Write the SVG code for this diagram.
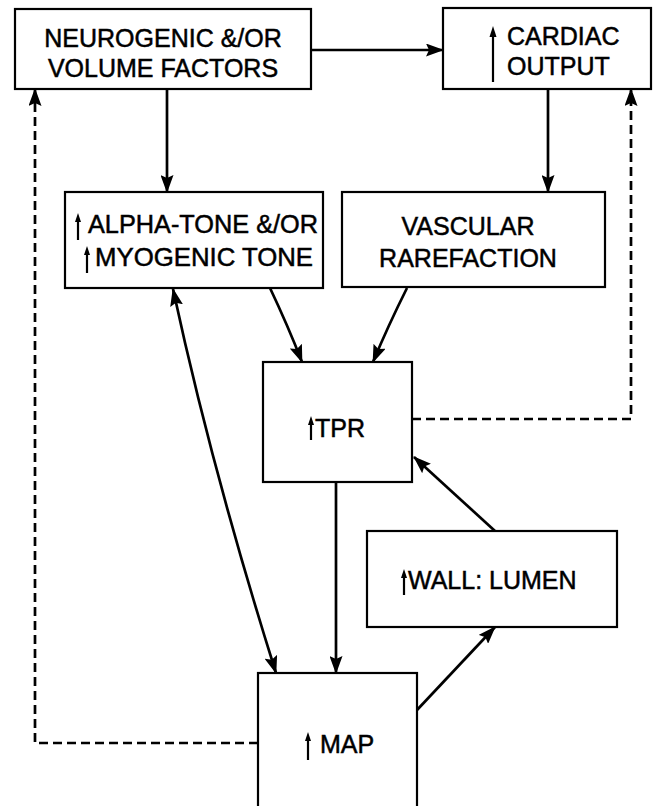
<svg xmlns="http://www.w3.org/2000/svg" width="653" height="806" viewBox="0 0 653 806">
<style>
.box{fill:#fff;stroke:#000;stroke-width:2.2}
.t{font-family:"Liberation Sans",Arial,sans-serif;font-size:25px;fill:#000;stroke:#000;stroke-width:0.5}
.c{text-anchor:middle}
.ln{fill:none;stroke:#000;stroke-width:2.7}
.dash{fill:none;stroke:#000;stroke-width:2.7;stroke-dasharray:9 5}
.up{stroke:#000;stroke-width:2.2;fill:none}
.uph{fill:#000}
</style>
<defs>
<marker id="ah" markerUnits="userSpaceOnUse" markerWidth="18" markerHeight="13" refX="17" refY="6.5" orient="auto-start-reverse">
<path d="M0,0 L18,6.5 L0,13 L3,6.5 Z" fill="#000"/>
</marker>
</defs>
<rect width="653" height="806" fill="#fff"/>

<g id="neurogenic">
<rect class="box" x="15" y="9" width="296" height="80"/>
<text class="t c" x="163" y="47">NEUROGENIC &amp;/OR</text>
<text class="t c" x="163" y="77">VOLUME FACTORS</text>
</g>

<g id="cardiac">
<rect class="box" x="443" y="8" width="208" height="81"/>
<line class="up" x1="493" y1="33" x2="493" y2="82"/>
<path class="uph" d="M489.5,37 L493,26 L496.5,37 Z"/>
<text class="t" x="507" y="45">CARDIAC</text>
<text class="t" x="507" y="75">OUTPUT</text>
</g>

<g id="alpha">
<rect class="box" x="65" y="192" width="258" height="96"/>
<line class="up" x1="78" y1="220" x2="78" y2="240"/>
<path class="uph" d="M75,222 L78,213 L81,222 Z"/>
<text class="t" x="88" y="233" textLength="230" lengthAdjust="spacingAndGlyphs">ALPHA-TONE &amp;/OR</text>
<line class="up" x1="87" y1="253" x2="87" y2="273"/>
<path class="uph" d="M84,255 L87,246 L90,255 Z"/>
<text class="t" x="95" y="266" textLength="218" lengthAdjust="spacingAndGlyphs">MYOGENIC TONE</text>
</g>

<g id="vascular">
<rect class="box" x="342" y="192" width="263" height="95"/>
<text class="t c" x="468" y="235">VASCULAR</text>
<text class="t c" x="468" y="267">RAREFACTION</text>
</g>

<g id="tpr">
<rect class="box" x="263" y="362" width="149" height="120"/>
<line class="up" x1="311" y1="423" x2="311" y2="440"/>
<path class="uph" d="M308,425 L311,416 L314,425 Z"/>
<text class="t" x="315" y="437">TPR</text>
</g>

<g id="wall">
<rect class="box" x="367" y="531" width="250" height="96"/>
<line class="up" x1="404" y1="576" x2="404" y2="595"/>
<path class="uph" d="M401,578 L404,569 L407,578 Z"/>
<text class="t" x="408" y="589">WALL: LUMEN</text>
</g>

<g id="map">
<rect class="box" x="258" y="673" width="159" height="150"/>
<line class="up" x1="308" y1="739" x2="308" y2="760"/>
<path class="uph" d="M305,741 L308,732 L311,741 Z"/>
<text class="t" x="320" y="753">MAP</text>
</g>

<g id="connectors">
<line class="ln" x1="311" y1="50" x2="443" y2="50" marker-end="url(#ah)"/>
<line class="ln" x1="167" y1="89" x2="167" y2="192" marker-end="url(#ah)"/>
<line class="ln" x1="548" y1="89" x2="548" y2="192" marker-end="url(#ah)"/>
<path class="ln" d="M270,288 Q288,326 302,362" marker-end="url(#ah)"/>
<path class="ln" d="M407,288 Q388,326 373,362" marker-end="url(#ah)"/>
<line class="ln" x1="336" y1="482" x2="336" y2="673" marker-end="url(#ah)"/>
<path class="ln" d="M173,289 Q212,470 276,673" marker-start="url(#ah)" marker-end="url(#ah)"/>
<line class="ln" x1="417" y1="710" x2="495" y2="627" marker-end="url(#ah)"/>
<line class="ln" x1="495" y1="531" x2="414" y2="457" marker-end="url(#ah)"/>
<path class="dash" d="M412,419 H631 V89" marker-end="url(#ah)"/>
<path class="dash" d="M258,743 H35 V89" marker-end="url(#ah)"/>
</g>
</svg>
